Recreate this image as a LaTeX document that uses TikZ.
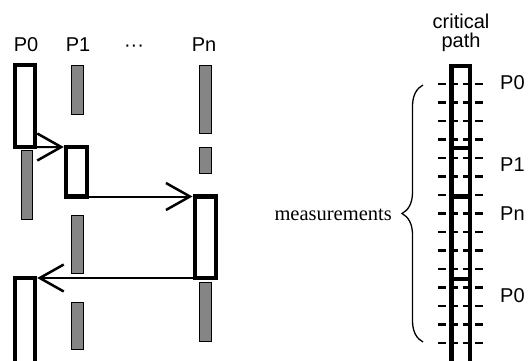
\documentclass[tikz,border=0pt]{standalone}
\usepackage{fontspec}
\setmainfont{Liberation Serif}
\newfontfamily\lsans{Liberation Sans}
\usetikzlibrary{arrows.meta,decorations.pathreplacing}
\begin{document}
\begin{tikzpicture}[x=1pt,y=-1pt,
  tbox/.style={draw, line width=4.3pt, fill=white, inner sep=0pt, outer sep=0pt, anchor=north west},
  cpbox/.style={draw, line width=4.5pt, inner sep=0pt, outer sep=0pt, anchor=north west, minimum width=18.5pt},
  gbar/.style={draw, line width=0.8pt, fill=black!48, inner sep=0pt, outer sep=0pt, anchor=north west},
  arr/.style={line width=2pt, -{Straight Barb[length=24pt,width=27pt,line width=2.5pt]}, shorten >=2.5pt},
  tick/.style={line width=2.6pt, dash pattern=on 8pt off 4.33pt},
  lab/.style={font=\lsans\fontsize{20}{20}\selectfont, inner sep=0pt, anchor=base},
  rlab/.style={font=\lsans\fontsize{20}{20}\selectfont, inner sep=0pt, anchor=base west},
  brc/.style={line width=1.3pt, decorate, decoration={brace, amplitude=21pt}}
]
\clip (0,0) rectangle (532,360);

% column labels
\node[lab] (l0) at (26,51.5) {P0};
\node[lab] (l1) at (78,51.5) {P1};
\node[lab] (ld) at (134,51.5) {···};
\node[lab] (ln) at (204,51.5) {Pn};

% gray bars
\node[gbar, minimum width=11pt, minimum height=69pt] (g0a) at (21,150) {};
\node[gbar, minimum width=12pt, minimum height=49pt] (g1a) at (71,65) {};
\node[gbar, minimum width=12pt, minimum height=58pt] (g1b) at (71,215) {};
\node[gbar, minimum width=12pt, minimum height=47pt] (g1c) at (71,302) {};
\node[gbar, minimum width=12pt, minimum height=68pt] (gna) at (199,65) {};
\node[gbar, minimum width=12pt, minimum height=26pt] (gnb) at (199,147) {};
\node[gbar, minimum width=12pt, minimum height=59pt] (gnc) at (199,282) {};

% active boxes
\node[tbox, minimum width=19.4pt, minimum height=81.7pt] (p0a) at (15.3,65.3) {};
\node[tbox, minimum width=21pt, minimum height=49.5pt] (p1) at (66.3,147) {};
\node[tbox, minimum width=21pt, minimum height=81.5pt] (pn) at (195,196.5) {};
\node[tbox, minimum width=19.4pt, minimum height=92pt] (p0b) at (15.3,278) {};

% messages
\draw[arr] (p0a.south east) -- (p1.north west);
\draw[arr] (p1.south east) -- (pn.north west);
\draw[arr] (pn.south west) -- (p0b.north east);

% critical path
\node[font=\lsans\fontsize{20}{19.5}\selectfont, align=center, inner sep=0pt, anchor=north] (cpt) at (461,13.5) {critical\\path};
\foreach \k in {0,...,14} {
  \draw[tick] (438,84+18.5*\k) -- (483,84+18.5*\k);
}
\node[cpbox, minimum height=82pt] (cpa) at (451.5,66) {};
\node[cpbox, minimum height=48.5pt] (cpb) at (451.5,148) {};
\node[cpbox, minimum height=82.5pt] (cpc) at (451.5,196.5) {};
\node[cpbox, minimum height=91pt] (cpd) at (451.5,279) {};

\node[rlab] (r0) at (500,89) {P0};
\node[rlab] (r1) at (500,171) {P1};
\node[rlab] (rn) at (500,220) {Pn};
\node[rlab] (r0b) at (500,302) {P0};

% brace
\draw[brc] (423,342) -- (423,85);
\node[font=\fontsize{20.5}{20.5}\selectfont, inner sep=0pt, anchor=base east] (meas) at (392,220) {measurements};
\end{tikzpicture}
\end{document}
